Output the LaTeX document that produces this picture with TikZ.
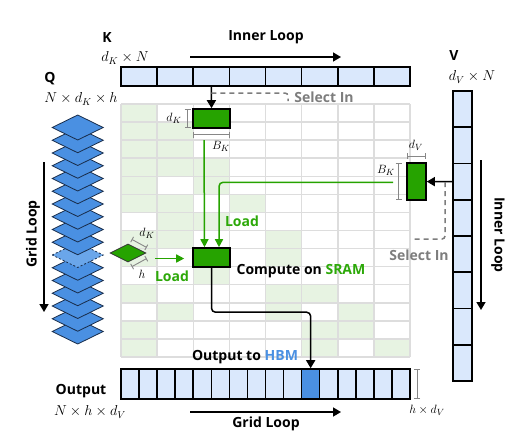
\documentclass[tikz,border=0pt]{standalone}
\usepackage{fontspec}
\newfontfamily\labfont{Open Sans}
\usetikzlibrary{arrows.meta,shapes.geometric,calc}
\definecolor{gfill}{RGB}{38,163,0}
\definecolor{gtext}{RGB}{44,168,8}
\definecolor{lgreen}{RGB}{231,243,226}
\definecolor{lblue}{RGB}{218,232,252}
\definecolor{dblue}{RGB}{74,144,226}
\definecolor{qblue}{RGB}{74,144,226}
\definecolor{qlight}{RGB}{106,166,234}
\definecolor{navy}{RGB}{25,45,75}
\definecolor{gridgray}{RGB}{221,221,221}
\definecolor{dimgray}{RGB}{135,135,135}
\definecolor{selgray}{RGB}{125,125,125}
\begin{document}
\begin{tikzpicture}[x=1pt,y=-1pt,
  boldlab/.style={font=\labfont\bfseries\fontsize{14}{16}\selectfont, inner sep=0pt},
  mathlab/.style={font=\fontsize{14}{16}\selectfont, inner sep=0pt},
  smallmath/.style={font=\fontsize{13}{15}\selectfont, inner sep=0pt},
  gridline/.style={draw=gridgray, line width=1.5pt},
  cellbox/.style={draw=black, fill=lblue, line width=1.6pt, inner sep=0pt, rectangle},
  gblock/.style={draw=black, fill=gfill, line width=1.6pt, inner sep=0pt, rectangle},
  blkarrow/.style={draw=black, line width=1.5pt, -{Triangle[length=8pt,width=9pt]}},
  garrow/.style={draw=gfill, line width=1.5pt, -{Triangle[length=8pt,width=8pt]}},
  grline/.style={draw=gfill, line width=1.5pt},
  seldash/.style={draw=selgray, line width=1.5pt, dash pattern=on 5pt off 4pt},
  dimbar/.style={draw=dimgray, line width=0.9pt, {Bar[width=6pt]}-{Bar[width=6pt]}},
  qdia/.style={draw=navy, fill=qblue, line width=0.8pt, line join=miter},
  qdiahl/.style={draw=navy, fill=qlight, line width=0.8pt, dash pattern=on 2pt off 2pt}
]
\useasboundingbox (0,0) rectangle (529,437);

% ---------- grid background (green cells) ----------
\foreach \r/\c in {1/1,2/1,2/2,3/1,3/2,4/1,4/2,4/3,5/1,5/3,6/1,6/2,6/4,7/2,7/3,
                   8/1,8/2,8/5,9/1,9/5,10/3,11/1,11/5,11/6,12/2,12/5,12/7,
                   13/1,13/6,13/7,14/1,14/6,14/8}
  \fill[lgreen] (121+36.125*\c-36.125, 104+18.07*\r-18.07) rectangle ++(36.125,18.07);
\foreach \i in {0,...,8}
  \draw[gridline] (121+36.125*\i,104) -- (121+36.125*\i,357);
\foreach \j in {0,...,14}
  \draw[gridline] (121,104+18.07*\j) -- (410,104+18.07*\j);

% ---------- K bar ----------
\foreach \i in {0,...,7}
  \node[cellbox, minimum width=36.125pt, minimum height=19pt] (k\i) at (121+36.125*\i+18.06, 76.2) {};
\node[boldlab] (klab) at (107,37) {K};
\node[mathlab] (kdim) at (125,58) {$d_K \times N$};
\node[boldlab] (innertop) at (266,37) {Inner Loop};
\coordinate (ita) at (190,57);
\coordinate (itb) at (341,57);
\draw[blkarrow] (ita) -- (itb);

% ---------- V bar ----------
\foreach \i in {0,...,7}
  \node[cellbox, minimum width=19pt, minimum height=36.25pt] (v\i) at (462.5, 91+36.25*\i+18.125) {};
\node[boldlab] (vlab) at (454,55) {V};
\node[mathlab] (vdim) at (472,77) {$d_V \times N$};
\node[boldlab, rotate=-90] (innerright) at (498,235) {Inner Loop};
\coordinate (ira) at (481,160);
\coordinate (irb) at (481,310);
\draw[blkarrow] (ira) -- (irb);

% ---------- Q stack ----------
\node[boldlab] (qlab) at (50,79) {Q};
\node[mathlab] (qdim) at (81,99) {$N \times d_K \times h$};
\foreach \i in {16,...,0}{
  \pgfmathsetmacro{\yy}{127.5+12.75*\i}
  \ifnum\i=10
    \filldraw[qdiahl] (52.2,\yy) -- (77.7,\yy-12.5) -- (103.2,\yy) -- (77.7,\yy+12.5) -- cycle;
  \else
    \filldraw[qdia] (52.2,\yy) -- (77.7,\yy-12.5) -- (103.2,\yy) -- (77.7,\yy+12.5) -- cycle;
  \fi
}
\node[boldlab, rotate=90] (gridleft) at (33,234) {Grid Loop};
\coordinate (gla) at (44,162);
\coordinate (glb) at (44,312);
\draw[blkarrow] (gla) -- (glb);

% ---------- blocks ----------
\node[gblock, minimum width=37pt, minimum height=19pt] (kb) at (211.5,118.5) {};
\node[gblock, minimum width=37pt, minimum height=19pt] (cb) at (211.5,257.5) {};
\node[gblock, minimum width=19pt, minimum height=37pt] (vb) at (416.5,181.6) {};
\node[diamond, draw=black!80, fill=gfill, line width=0.8pt, minimum width=36pt, minimum height=18pt, inner sep=0pt] (qd) at (128,253) {};

% K block dims
\draw[dimbar] (187.5,109) -- (187.5,128);
\node[smallmath] (kbdk) at (174,118) {$d_K$};
\draw[dimbar] (193,134.5) -- (230,134.5);
\node[smallmath] (kbbk) at (221,146) {$B_K$};

% V block dims
\draw[dimbar] (407,156) -- (426,156);
\node[smallmath] (vbdv) at (416,145) {$d_V$};
\draw[dimbar] (398.5,163) -- (398.5,200);
\node[smallmath] (vbbk) at (386,170) {$B_K$};

% diamond dims
\draw[dimbar] (131.7,239.3) -- (146.7,247.5);
\node[smallmath] (qddk) at (147,233) {$d_K$};
\draw[dimbar] (146.7,258.5) -- (131.7,266.7);
\node[smallmath] (qdh) at (142,274) {$h$};

% ---------- connectors ----------
\draw[blkarrow] (k2.south) -- (kb.north);
\coordinate (ks) at (k2.south |- 0,93);
\draw[seldash, rounded corners=3pt] (ks) -- (288,93) -- (288,101);
\node[boldlab, text=selgray] (selk) at (324,97) {Select In};

\draw[blkarrow] (v2.west) -- (vb.east);
\coordinate (vs) at (445,182);
\draw[seldash, rounded corners=3pt] (vs) -- (445,239) -- (411,239);
\node[boldlab, text=selgray] (selv) at (419,255) {Select In};

\coordinate (kload) at (204,140);
\draw[garrow] (kload) -- ($(cb.north)+(-7,0)$);
\coordinate (vload) at (393,182.3);
\draw[garrow, rounded corners=4pt] (vload) -- (219,182.3) -- ($(cb.north)+(7.5,0)$);
\node[boldlab, text=gtext] (load1) at (242,221) {Load};

\coordinate (qload) at (155,258.5);
\draw[garrow] (qload) -- ($(cb.west)+(-8,1)$);
\node[boldlab, text=gtext] (load2) at (172,276.5) {Load};

\node[boldlab] (comp) at (301,271.5) {Compute on \textcolor{gtext}{SRAM}};

% ---------- output bar ----------
\foreach \i in {0,...,15}{
  \ifnum\i=10
    \node[cellbox, fill=dblue, minimum width=18.0625pt, minimum height=30pt] (o\i) at (121+18.0625*\i+9.03, 384) {};
  \else
    \node[cellbox, minimum width=18.0625pt, minimum height=30pt] (o\i) at (121+18.0625*\i+9.03, 384) {};
  \fi
}
\draw[blkarrow, rounded corners=4pt] (cb.south) |- ($(o10.north)+(0,-56)$) -- (o10.north);
\node[boldlab] (outhbm) at (245,357) {Output to \textcolor{dblue}{HBM}};
\node[boldlab] (outlab) at (81,391) {Output};
\node[mathlab] (outdim) at (90,412) {$N \times h \times d_V$};
\draw[dimbar] (417,369) -- (417,399);
\node[smallmath] (odim) at (427,410) {$h \times d_V$};
\node[boldlab] (gridbot) at (266,424) {Grid Loop};
\coordinate (gba) at (190,412);
\coordinate (gbb) at (341,412);
\draw[blkarrow] (gba) -- (gbb);
\end{tikzpicture}
\end{document}
